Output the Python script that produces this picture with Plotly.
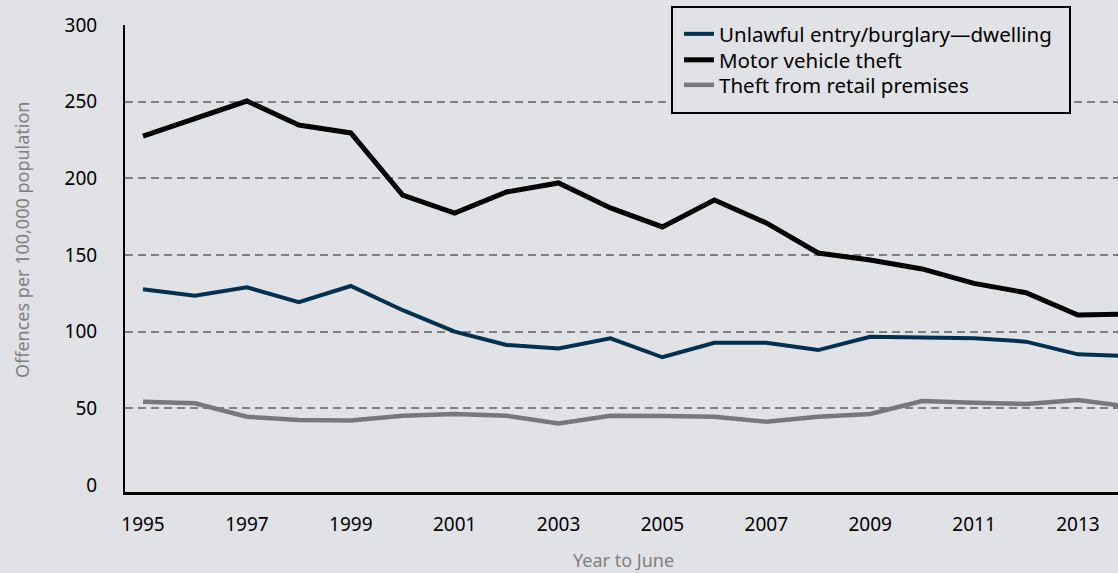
import plotly.graph_objects as go

years = list(range(1995, 2015))
burglary = [127.6, 123.5, 128.9, 119.3, 129.8, 114.0, 100.0, 91.3, 89.1, 95.7,
            83.3, 92.8, 92.8, 88.0, 96.7, 96.3, 95.7, 93.5, 85.2, 84.1]
motor_vehicle = [227.6, 239.3, 250.4, 234.8, 229.6, 189.1, 177.4, 191.1, 197.0, 180.7,
                 168.3, 185.9, 170.9, 151.3, 146.7, 140.9, 131.5, 125.4, 110.9, 111.5]
retail = [54.3, 53.3, 44.5, 42.4, 42.0, 45.2, 46.3, 45.2, 40.2, 45.2,
          45.0, 44.5, 41.3, 44.5, 46.3, 54.8, 53.7, 52.8, 55.4, 51.0]

series_names = ["Unlawful entry/burglary\u2014dwelling", "Motor vehicle theft",
                "Theft from retail premises"]
x_tick_years = list(range(1995, 2014, 2))
y_tick_vals = [0, 50, 100, 150, 200, 250, 300]
y_grid_vals = [50, 100, 150, 200, 250, 300]

BG = "#e1e2e6"
FONT = "Noto Sans"

W, H = 1118, 573
PLOT_L, PLOT_R, PLOT_T, PLOT_B = 125, 1118, 25, 492  # pixel box of the plot area
L, T = PLOT_L, PLOT_T
R = W - PLOT_R
B = H - PLOT_B
pw, ph = PLOT_R - PLOT_L, PLOT_B - PLOT_T


def px_x(p):
    return (p - PLOT_L) / pw


def px_y(p):
    return (PLOT_B - p) / ph


colors = ["#00304f", "#000000", "#76787b"]
widths = [4, 5, 4.5]
values = [burglary, motor_vehicle, retail]
legend_ids = ["legend", "legend2", "legend3"]
legend_rows = [34, 60, 85]

fig = go.Figure()
for name, vals, c, w, lid in zip(series_names, values, colors, widths, legend_ids):
    fig.add_trace(go.Scatter(x=years, y=vals, mode="lines", name=name,
                             line=dict(color=c, width=w), legend=lid))

legend_common = dict(xanchor="left", yanchor="middle", bgcolor="rgba(0,0,0,0)",
                     borderwidth=0, font=dict(family=FONT, size=20.5, color="#000000"))
legend_layouts = {}
for lid, row in zip(legend_ids, legend_rows):
    legend_layouts[lid] = dict(x=px_x(679), y=px_y(row), **legend_common)

fig.update_layout(
    width=W, height=H,
    margin=dict(l=L, r=R, t=T, b=B, pad=0),
    paper_bgcolor=BG, plot_bgcolor=BG,
    font=dict(family=FONT, size=19, color="#000000"),
    showlegend=True,
    xaxis=dict(range=[1995 - 18 / 51.94, 1995 + (1118 - 143) / 51.94],
               tickmode="array", tickvals=x_tick_years,
               ticktext=[str(y) for y in x_tick_years],
               showgrid=False, zeroline=False,
               showline=True, linecolor="#000000", linewidth=2.5,
               ticks="", ticklabelstandoff=13,
               tickfont=dict(family=FONT, size=19, color="#000000")),
    yaxis=dict(range=[300 - 467 / 1.53333, 300],
               tickmode="array", tickvals=y_tick_vals,
               ticktext=[str(v) for v in y_tick_vals],
               showgrid=False, zeroline=False,
               minor=dict(tickmode="array", tickvals=y_grid_vals, showgrid=True,
                          gridcolor="#7f7f7f", gridwidth=1.5, griddash="8px,5px",
                          ticks=""),
               showline=True, linecolor="#000000", linewidth=2,
               ticks="", ticklabelstandoff=22,
               tickfont=dict(family=FONT, size=19, color="#000000")),
    shapes=[dict(type="rect", xref="paper", yref="paper",
                 x0=px_x(672), x1=px_x(1070), y0=px_y(113), y1=px_y(7),
                 line=dict(color="#000000", width=2), fillcolor=BG, layer="above")],
    annotations=[
        dict(text="Offences per 100,000 population", xref="paper", yref="paper",
             x=px_x(22), y=px_y(240), xanchor="center", yanchor="middle",
             textangle=-90, showarrow=False,
             font=dict(family=FONT, size=18, color="#808080")),
        dict(text="Year to June", xref="paper", yref="paper",
             x=px_x(623), y=px_y(560), xanchor="center", yanchor="middle",
             showarrow=False, font=dict(family=FONT, size=18, color="#808080")),
    ],
    **legend_layouts,
)

fig.write_html(
    "out.html",
    config={"displayModeBar": False},
    post_script="document.body.style.margin='0';document.body.style.overflow='hidden';"
                "document.body.style.background='" + BG + "';",
)
